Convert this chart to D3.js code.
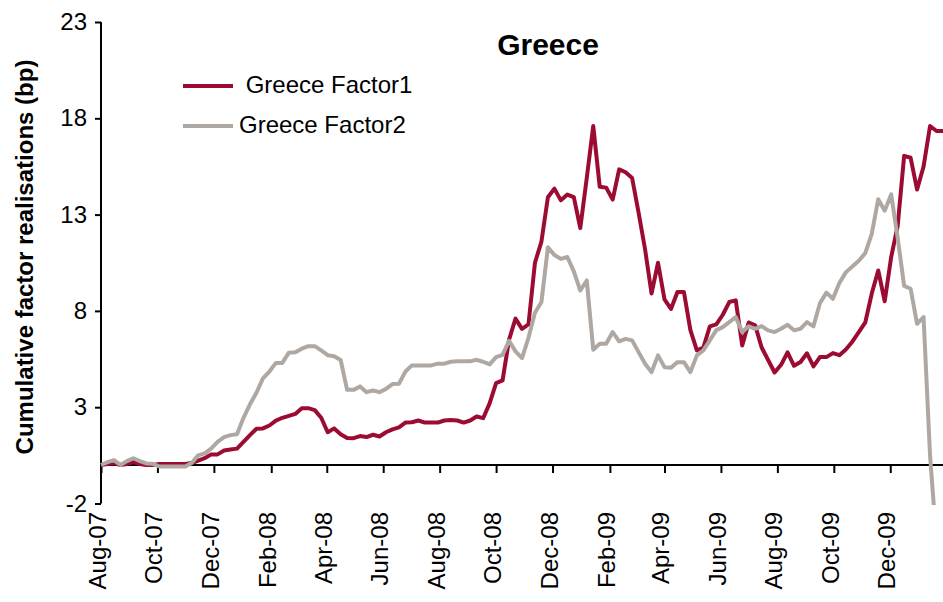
<!DOCTYPE html>
<html>
<head>
<meta charset="utf-8">
<script src="https://cdn.jsdelivr.net/npm/d3@7"></script>
<style>
  html, body { margin: 0; padding: 0; background: #ffffff; }
  svg { display: block; font-family: "Liberation Sans", Arial, sans-serif; }
</style>
</head>
<body>
<svg id="chart" width="943" height="602"></svg>
<script>
const dates = [
  "2007-08-01","2007-08-08","2007-08-15","2007-08-22","2007-08-29","2007-09-05","2007-09-12","2007-09-19","2007-09-26","2007-10-03",
  "2007-10-10","2007-10-17","2007-10-24","2007-10-31","2007-11-07","2007-11-14","2007-11-21","2007-11-28","2007-12-05","2007-12-12",
  "2007-12-19","2007-12-26","2008-01-02","2008-01-09","2008-01-16","2008-01-23","2008-01-30","2008-02-06","2008-02-13","2008-02-20",
  "2008-02-27","2008-03-05","2008-03-12","2008-03-19","2008-03-26","2008-04-02","2008-04-09","2008-04-16","2008-04-23","2008-04-30",
  "2008-05-07","2008-05-14","2008-05-21","2008-05-28","2008-06-04","2008-06-11","2008-06-18","2008-06-25","2008-07-02","2008-07-09",
  "2008-07-16","2008-07-23","2008-07-30","2008-08-06","2008-08-13","2008-08-20","2008-08-27","2008-09-03","2008-09-10","2008-09-17",
  "2008-09-24","2008-10-01","2008-10-08","2008-10-15","2008-10-22","2008-10-29","2008-11-05","2008-11-12","2008-11-19","2008-11-26",
  "2008-12-03","2008-12-10","2008-12-17","2008-12-24","2008-12-31","2009-01-07","2009-01-14","2009-01-21","2009-01-28","2009-02-04",
  "2009-02-11","2009-02-18","2009-02-25","2009-03-04","2009-03-11","2009-03-18","2009-03-25","2009-04-01","2009-04-08","2009-04-15",
  "2009-04-22","2009-04-29","2009-05-06","2009-05-13","2009-05-20","2009-05-27","2009-06-03","2009-06-10","2009-06-17","2009-06-24",
  "2009-07-01","2009-07-08","2009-07-15","2009-07-22","2009-07-29","2009-08-05","2009-08-12","2009-08-19","2009-08-26","2009-09-02",
  "2009-09-09","2009-09-16","2009-09-23","2009-09-30","2009-10-07","2009-10-14","2009-10-21","2009-10-28","2009-11-04","2009-11-11",
  "2009-11-18","2009-11-25","2009-12-02","2009-12-09","2009-12-16","2009-12-23","2009-12-30","2010-01-06","2010-01-13","2010-01-20",
  "2010-01-27"
];

const factor1 = [
  0,0.05,0.1,0,0.05,0.15,0.05,0,0,0.05,
  0.05,0.05,0.05,0.05,0.1,0.23,0.35,0.55,0.55,0.75,
  0.8,0.85,1.2,1.55,1.88,1.9,2.05,2.3,2.45,2.55,
  2.65,2.95,2.95,2.85,2.45,1.7,1.9,1.6,1.4,1.39,
  1.5,1.45,1.57,1.48,1.7,1.85,1.95,2.2,2.22,2.31,
  2.2,2.2,2.2,2.31,2.33,2.31,2.2,2.31,2.52,2.43,
  3.2,4.25,4.39,6.5,7.6,7.07,7.3,10.5,11.6,13.9,
  14.35,13.74,14.04,13.91,12.3,14.9,17.6,14.45,14.4,13.78,
  15.35,15.2,14.9,13.1,11.2,8.9,10.5,8.6,8.1,8.98,
  8.98,7.0,5.95,6.1,7.2,7.3,7.8,8.46,8.55,6.2,
  7.4,7.25,6.1,5.45,4.8,5.2,5.85,5.15,5.35,5.8,
  5.12,5.6,5.6,5.81,5.7,6.0,6.4,6.9,7.4,8.9,
  10.1,8.5,10.8,12.4,16.05,15.95,14.3,15.5,17.6,17.34,
  17.34
];

const factor2 = [
  0,0.15,0.25,0,0.2,0.35,0.2,0.08,0.06,-0.08,
  -0.08,-0.08,-0.08,-0.08,0.1,0.5,0.6,0.85,1.2,1.45,
  1.55,1.6,2.45,3.15,3.75,4.5,4.85,5.3,5.3,5.83,
  5.85,6.04,6.17,6.17,5.95,5.7,5.65,5.45,3.9,3.9,
  4.08,3.78,3.87,3.78,3.95,4.2,4.22,4.85,5.17,5.17,
  5.17,5.17,5.26,5.26,5.36,5.38,5.38,5.38,5.46,5.36,
  5.22,5.6,5.72,6.45,5.9,5.55,6.6,7.9,8.46,11.3,
  10.9,10.7,10.8,10.05,9.06,9.58,5.98,6.29,6.29,6.9,
  6.42,6.55,6.47,5.86,5.26,4.82,5.69,5.08,5.05,5.34,
  5.34,4.82,5.69,5.95,6.47,7.0,7.16,7.42,7.68,6.9,
  7.2,7.07,7.21,6.99,6.9,7.07,7.28,6.99,7.07,7.42,
  7.2,8.4,8.95,8.63,9.45,10.0,10.3,10.6,11.0,12.0,
  13.8,13.2,14.05,11.8,9.3,9.15,7.33,7.68,0.5,-4,
  -4.5
];

const seriesNames = [" Greece Factor1", "Greece Factor2"];
const seriesColors = ["#9C0C32", "#AFA8A2"];
const yTicks = [-2, 3, 8, 13, 18, 23];
const xTickDates = [
  "2007-08-01","2007-10-01","2007-12-01","2008-02-01","2008-04-01","2008-06-01","2008-08-01",
  "2008-10-01","2008-12-01","2009-02-01","2009-04-01","2009-06-01","2009-08-01","2009-10-01","2009-12-01"
];
const chartTitle = "Greece";
const yTitle = "Cumulative factor realisations (bp)";

const parse = d3.utcParse("%Y-%m-%d");
const fmt = d3.utcFormat("%b-%y");
const svg = d3.select("#chart");
svg.append("rect").attr("width", 943).attr("height", 602).attr("fill", "#fff");

const x = d3.scaleUtc()
  .domain([parse("2007-08-01"), parse("2010-01-27")])
  .range([101, 943]);
const y = d3.scaleLinear().domain([-2, 23]).range([503.5, 22]);

// clip
svg.append("clipPath").attr("id", "plotclip")
  .append("rect").attr("x", 96).attr("y", 10).attr("width", 860).attr("height", 495);

// Y axis
const yAxis = svg.append("g").attr("transform", "translate(101,0)")
  .call(d3.axisLeft(y).tickValues(yTicks).tickSize(6).tickPadding(8).tickFormat(d => String(d)));
yAxis.select(".domain").attr("stroke", "#000").attr("stroke-width", 2).attr("d", `M0,${y(23)}V${y(-2)}`);
yAxis.selectAll(".tick line").attr("stroke", "#000").attr("stroke-width", 2);
yAxis.selectAll(".tick text").attr("font-size", 24).attr("fill", "#000")
  .attr("font-family", "Liberation Sans, Arial, sans-serif");

// X axis at y=0
const xAxis = svg.append("g").attr("transform", `translate(0,${y(0)})`)
  .call(d3.axisBottom(x).tickValues(xTickDates.map(parse)).tickSize(8).tickFormat(""));
xAxis.select(".domain").attr("stroke", "#000").attr("stroke-width", 2).attr("d", `M101,0H943`);
xAxis.selectAll(".tick line").attr("stroke", "#000").attr("stroke-width", 2);

// X tick labels, rotated, below plot
svg.append("g").selectAll("text").data(xTickDates).join("text")
  .attr("transform", d => `translate(${x(parse(d)) + 5},512) rotate(-90)`)
  .attr("text-anchor", "end")
  .attr("font-size", 24)
  .attr("fill", "#000")
  .text(d => fmt(parse(d)));

// Lines
const line = d3.line().x((d, i) => x(parse(dates[i]))).y(d => y(d));
const plot = svg.append("g").attr("clip-path", "url(#plotclip)");
[factor1, factor2].forEach((vals, k) => {
  plot.append("path").datum(vals)
    .attr("fill", "none")
    .attr("stroke", seriesColors[k])
    .attr("stroke-width", 4)
    .attr("stroke-linejoin", "round")
    .attr("d", line);
});

// Title
svg.append("text").attr("x", 548).attr("y", 55).attr("text-anchor", "middle")
  .attr("font-size", 30).attr("font-weight", "bold").attr("fill", "#000").text(chartTitle);

// Y axis title
svg.append("text").attr("transform", "translate(33,257) rotate(-90)")
  .attr("text-anchor", "middle").attr("font-size", 24).attr("font-weight", "bold")
  .attr("fill", "#000").text(yTitle);

// Legend
const legendY = [86, 126];
const legendTextX = [239, 239];
seriesNames.forEach((name, k) => {
  svg.append("line").attr("x1", 183).attr("x2", 233)
    .attr("y1", legendY[k]).attr("y2", legendY[k])
    .attr("stroke", seriesColors[k]).attr("stroke-width", 4);
  svg.append("text").attr("x", legendTextX[k]).attr("y", legendY[k] + 7)
    .attr("font-size", 24).attr("fill", "#000")
    .attr("xml:space", "preserve").style("white-space", "pre")
    .text(name);
});
</script>
</body>
</html>
